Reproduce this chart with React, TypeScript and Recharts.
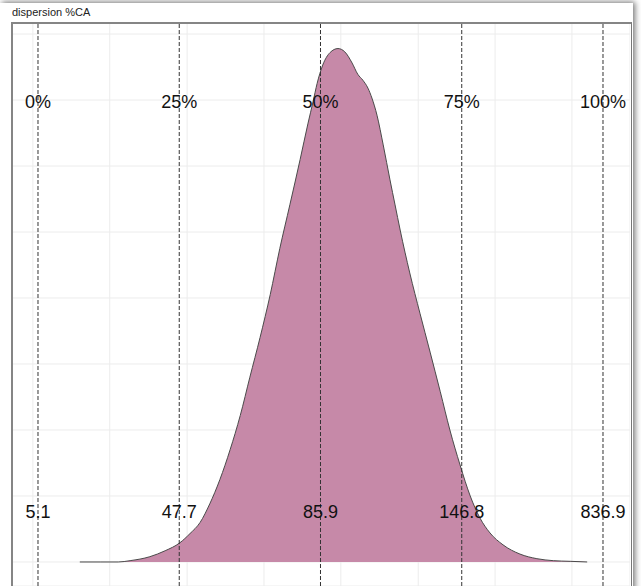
import React from 'react';
import { AreaChart, Area, XAxis, YAxis, CartesianGrid, ReferenceLine } from 'recharts';

// position on the quantile scale (0..100) and density height
const densityX = [
  7.4, 11.0, 14.2, 16.3, 19.8, 22.5, 25.1, 26.9, 28.7, 30.4, 32.2, 34.0, 35.8, 37.5, 39.3,
  41.1, 42.8, 44.6, 46.4, 47.8, 48.7, 49.4, 50.4, 51.7, 53.1, 54.3, 55.6, 56.6, 57.5, 58.4,
  59.1, 60.0, 61.1, 62.3, 63.2, 64.1, 65.8, 67.6, 69.4, 71.2, 72.9, 74.7, 76.5, 78.2, 80.0,
  82.3, 85.3, 88.3, 91.2, 94.2, 97.2
];
const densityY = [
  0, 0, 0, 0.02, 0.08, 0.17, 0.29, 0.43, 0.6, 0.88, 1.25, 1.7, 2.22, 2.8, 3.4,
  4.05, 4.75, 5.42, 6.1, 6.65, 6.98, 7.25, 7.53, 7.72, 7.78, 7.73, 7.56, 7.39, 7.3, 7.18,
  7.03, 6.77, 6.32, 5.79, 5.41, 5.03, 4.38, 3.77, 3.18, 2.58, 2.0, 1.47, 1.0, 0.67, 0.44,
  0.26, 0.12, 0.05, 0.02, 0.01, 0
];

const quantilePos = [0, 25, 50, 75, 100];
const quantilePct = ['0%', '25%', '50%', '75%', '100%'];
const quantileVal = ['5.1', '47.7', '85.9', '146.8', '836.9'];

const gridX = [-0.9, 12.7, 26.4, 40.0, 53.6, 67.3, 80.9, 94.5];
const gridY = [0, 1, 2, 3, 4, 5, 6, 7, 8];

const data = densityX.map((x, i) => ({ x, y: densityY[i] }));

const font = '"Liberation Sans", Arial, sans-serif';

const QLabel = ({ viewBox, top, bottom }: any) => {
  const x = viewBox?.x ?? 0;
  return (
    <g>
      <text x={x} y={85} textAnchor="middle" fontSize={18} fontFamily={font} fill="#111">{top}</text>
      <text x={x} y={495} textAnchor="middle" fontSize={18} fontFamily={font} fill="#111">{bottom}</text>
    </g>
  );
};

export default function App() {
  return (
    <div style={{ position: 'absolute', left: 0, top: 0, width: 641, height: 586, overflow: 'hidden', background: '#fff' }}>
      <div style={{ position: 'absolute', left: 0, top: 3, width: 633, height: 600, background: '#fff', boxShadow: '2px -1px 6px rgba(0,0,0,0.55)' }} />
      <div style={{ position: 'absolute', left: 12, top: 6, fontFamily: font, fontSize: 11, color: '#222' }}>dispersion %CA</div>
      <div style={{ position: 'absolute', left: 12, top: 23 }}>
        <AreaChart width={618} height={563} data={data} margin={{ top: 0, right: 0, bottom: 0, left: 0 }}>
          <CartesianGrid stroke="#ececec" />
          <XAxis type="number" dataKey="x" domain={[-4.6, 104.78]} ticks={gridX} hide allowDataOverflow />
          <YAxis type="number" domain={[-0.364, 8.167]} ticks={gridY} hide allowDataOverflow />
          <Area
            type="monotone"
            dataKey="y"
            baseValue={0}
            stroke="#4a4a4a"
            strokeWidth={1}
            fill="#c689a8"
            fillOpacity={1}
            isAnimationActive={false}
          />
          {quantilePos.map((q, i) => (
            <ReferenceLine
              key={q}
              x={q}
              stroke="#333"
              strokeDasharray="4 2"
              label={<QLabel top={quantilePct[i]} bottom={quantileVal[i]} />}
            />
          ))}
        </AreaChart>
      </div>
      <div style={{ position: 'absolute', left: 11, top: 22, width: 621, height: 600, border: '2px solid #858585', borderRight: '1.5px solid #777', boxSizing: 'border-box', pointerEvents: 'none' }} />
    </div>
  );
}
